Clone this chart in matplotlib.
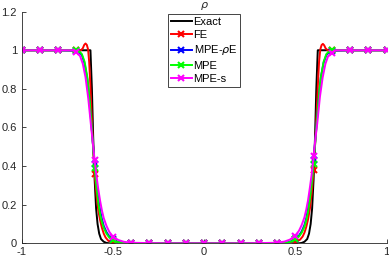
import matplotlib
matplotlib.use('Agg')
import matplotlib.pyplot as plt

plt.rcParams['font.family'] = ['Liberation Sans', 'DejaVu Sans']
plt.rcParams['mathtext.fontset'] = 'dejavusans'

# --------------------- dados
mid_x = [-0.4, -0.3, -0.2, -0.1, 0.0, 0.1, 0.2, 0.3, 0.4]

exact_x = [-1, -0.9, -0.8, -0.7, -0.623, -0.615, -0.608, -0.6, -0.592, -0.584, -0.575, -0.565,
           -0.55, -0.535, -0.52, -0.5] + mid_x + \
          [0.5, 0.52, 0.535, 0.55, 0.565, 0.575, 0.584, 0.592, 0.6, 0.608, 0.615, 0.623,
           0.7, 0.8, 0.9, 1]
exact_y = [1, 1, 1, 1, 1, 0.8, 0.55, 0.33, 0.18, 0.1, 0.05, 0.022,
           0.008, 0.002, 0, 0] + [0] * 9 + \
          [0, 0, 0.002, 0.008, 0.022, 0.05, 0.1, 0.18, 0.33, 0.55, 0.8, 1,
           1, 1, 1, 1]

fe_x = [-1, -0.9, -0.8, -0.7, -0.675, -0.665, -0.657, -0.65, -0.643, -0.636, -0.63, -0.624,
        -0.618, -0.612, -0.606, -0.6, -0.59, -0.58, -0.57, -0.56, -0.55, -0.54, -0.525,
        -0.5, -0.48] + mid_x + \
       [0.48, 0.5, 0.525, 0.54, 0.55, 0.56, 0.57, 0.58, 0.59, 0.6, 0.606, 0.612,
        0.618, 0.624, 0.63, 0.637, 0.644, 0.651, 0.658, 0.666, 0.677, 0.7, 0.8, 0.9, 1]
fe_y = [1, 1, 1, 1, 1.0, 1.01, 1.028, 1.035, 1.028, 1.005, 0.94, 0.83,
        0.7, 0.57, 0.45, 0.36, 0.25, 0.17, 0.12, 0.08, 0.05, 0.03, 0.013,
        0.004, 0.001] + [0] * 9 + \
       [0.002, 0.008, 0.018, 0.035, 0.055, 0.085, 0.125, 0.18, 0.26, 0.38, 0.47, 0.58,
        0.7, 0.83, 0.94, 1.005, 1.027, 1.033, 1.026, 1.01, 1.0, 1, 1, 1, 1]

mperhoe_x = [-1, -0.9, -0.8, -0.7, -0.685, -0.67, -0.655, -0.64, -0.63, -0.62, -0.61, -0.6,
             -0.59, -0.58, -0.57, -0.56, -0.55, -0.535, -0.52, -0.5, -0.48, -0.46, -0.44] + mid_x + \
            [0.44, 0.46, 0.48, 0.5, 0.52, 0.535, 0.55, 0.56, 0.57, 0.58, 0.59, 0.6,
             0.61, 0.62, 0.63, 0.64, 0.655, 0.67, 0.685, 0.7, 0.8, 0.9, 1]
mperhoe_y = [1, 1, 1, 0.998, 0.99, 0.975, 0.93, 0.85, 0.76, 0.64, 0.52, 0.41,
             0.31, 0.23, 0.17, 0.125, 0.09, 0.058, 0.036, 0.02, 0.011, 0.005, 0.002] + [0] * 9 + \
            [0.002, 0.005, 0.012, 0.022, 0.04, 0.062, 0.095, 0.13, 0.18, 0.245, 0.33, 0.43,
             0.54, 0.66, 0.77, 0.86, 0.935, 0.975, 0.99, 0.998, 1, 1, 1]

mpe_x = mperhoe_x
mpe_y = [1, 1, 1, 1.0, 0.995, 0.98, 0.94, 0.86, 0.77, 0.65, 0.52, 0.39,
         0.29, 0.21, 0.15, 0.11, 0.08, 0.05, 0.03, 0.017, 0.009, 0.004, 0.002] + [0] * 9 + \
        [0.002, 0.004, 0.01, 0.022, 0.035, 0.055, 0.085, 0.12, 0.165, 0.23, 0.31, 0.41,
         0.53, 0.66, 0.77, 0.86, 0.94, 0.98, 0.995, 1.0, 1, 1, 1]

mpes_x = [-1, -0.9, -0.8, -0.72, -0.7, -0.68, -0.665, -0.65, -0.635, -0.62, -0.61, -0.6,
          -0.59, -0.58, -0.57, -0.56, -0.55, -0.535, -0.52, -0.5, -0.47, -0.44] + mid_x + \
         [0.44, 0.47, 0.5, 0.52, 0.535, 0.55, 0.56, 0.57, 0.58, 0.59, 0.6, 0.61,
          0.62, 0.635, 0.65, 0.665, 0.68, 0.7, 0.72, 0.8, 0.9, 1]
mpes_y = [1, 1, 1, 1, 0.99, 0.97, 0.93, 0.86, 0.75, 0.61, 0.52, 0.43,
          0.35, 0.28, 0.22, 0.17, 0.13, 0.09, 0.06, 0.035, 0.017, 0.008] + \
         [0.003, 0.001, 0, 0, 0, 0, 0, 0.001, 0.003] + \
         [0.009, 0.019, 0.04, 0.065, 0.095, 0.135, 0.175, 0.225, 0.29, 0.36, 0.45, 0.54,
          0.62, 0.76, 0.86, 0.93, 0.97, 0.985, 1, 1, 1, 1]

series = [
    ('Exact', exact_x, exact_y, 'black', None),
    ('FE', fe_x, fe_y, 'red', 'x'),
    (r'MPE-$\rho$E', mperhoe_x, mperhoe_y, 'blue', 'x'),
    ('MPE', mpe_x, mpe_y, (0, 1, 0), 'x'),
    ('MPE-s', mpes_x, mpes_y, 'magenta', 'x'),
]

# --------------------- grafico
fig = plt.figure(figsize=(3.89, 2.6), dpi=100)
ax = fig.add_axes([0.0557, 0.0642, 0.938, 0.891])

for nome, xs, ys, cor, marc in series:
    marcas = [i for i, v in enumerate(xs) if abs(v * 10 - round(v * 10)) < 1e-6]
    ax.plot(xs, ys, color=cor, lw=1.4, marker=marc, markevery=marcas,
            markersize=5, markeredgewidth=1.5, label=nome)

ax.set_xlim(-1, 1)
ax.set_ylim(0, 1.2)
ax.set_xticks([-1, -0.5, 0, 0.5, 1])
ax.set_xticklabels(['-1', '-0.5', '0', '0.5', '1'])
ax.set_yticks([0, 0.2, 0.4, 0.6, 0.8, 1, 1.2])
ax.set_yticklabels(['0', '0.2', '0.4', '0.6', '0.8', '1', '1.2'])
ax.tick_params(direction='in', length=3, width=0.6, labelsize=8, colors='#262626')
ax.tick_params(axis='x', pad=3)
ax.tick_params(axis='y', pad=3.3)
for lado in ['top', 'right']:
    ax.spines[lado].set_visible(False)
for lado in ['left', 'bottom']:
    ax.spines[lado].set_color('#262626')
    ax.spines[lado].set_linewidth(0.6)

ax.set_title(r'$\rho$', fontsize=8, pad=2, color='#262626')

leg = ax.legend(loc='upper center', bbox_to_anchor=(0.5, 0.99), fontsize=8,
                fancybox=False, framealpha=1, edgecolor='#262626', handlelength=1.9,
                handletextpad=0.15, labelspacing=0.3, borderpad=0.25, borderaxespad=0)
leg.get_frame().set_linewidth(0.6)

fig.savefig('out.png', dpi=100)
